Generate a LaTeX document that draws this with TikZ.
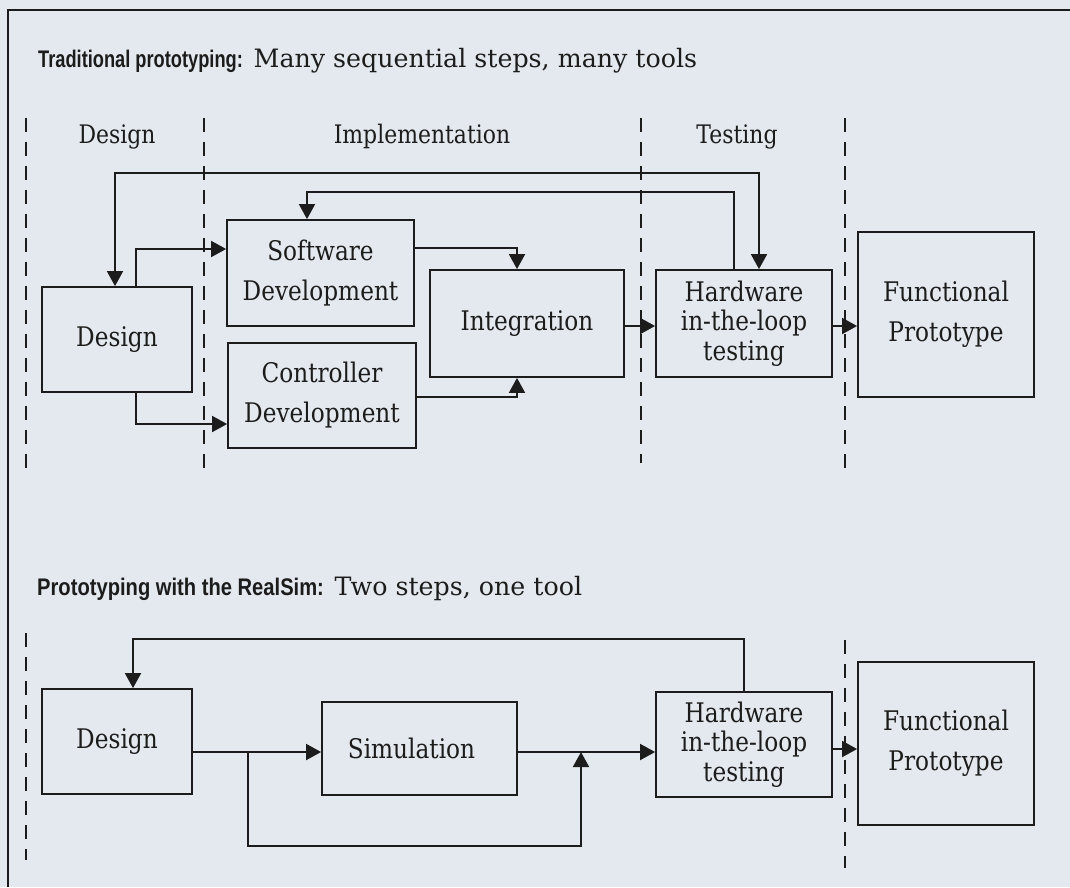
\documentclass[tikz,border=0pt]{standalone}
\usepackage{fontspec}
\setmainfont{DejaVu Serif}
\newfontfamily\serifC[FakeStretch=0.86]{DejaVu Serif}
\newfontfamily\condfont[FakeStretch=0.76]{Liberation Sans}
\newfontfamily\condfontB[FakeStretch=0.84]{Liberation Sans}
\usetikzlibrary{arrows.meta}
\definecolor{bg}{RGB}{228,233,239}
\definecolor{ink}{RGB}{28,28,28}
\newcommand\bxfont{\serifC\fontsize{27}{40}\selectfont}
\newcommand\hilfont{\serifC\fontsize{27}{29.5}\selectfont}
\begin{document}
\begin{tikzpicture}[x=1pt,y=-1pt,
  box/.style={draw=ink, line width=1.8pt, align=center, inner sep=0pt, font=\bxfont, text=ink},
  hdr/.style={anchor=base, font=\serifC\fontsize{25.5}{28}\selectfont, text=ink, inner sep=0pt},
  ttl/.style={anchor=base west, font=\fontsize{25.3}{30}\selectfont, text=ink, inner sep=0pt},
  tip/.tip={Triangle[length=15pt,width=16pt]},
  arr/.style={draw=ink, line width=1.8pt, -tip},
  dbl/.style={draw=ink, line width=1.8pt, tip-tip},
  phase/.style={draw=ink, line width=1.5pt, dash pattern=on 14pt off 10pt}]
\useasboundingbox (0,0) rectangle (1070,887);
\fill[bg] (0,0) rectangle (1070,887);
% frame
\draw[ink, line width=1.5pt] (1070,10) -- (8,10) -- (8,887);

% titles
\node[ttl] (t1) at (38,67) {{\condfont\fontsize{24}{26}\selectfont\bfseries Traditional prototyping:} Many sequential steps, many tools};
\node[ttl] (t2) at (37,595) {{\condfontB\fontsize{24}{26}\selectfont\bfseries Prototyping with the RealSim:} Two steps, one tool};

% phase headers
\node[hdr] (hd) at (117,143) {Design};
\node[hdr] (hi) at (422,143) {Implementation};
\node[hdr] (ht) at (737,143) {Testing};

% phase separators
\draw[phase] (26,118) -- (26,473);
\draw[phase] (204,118) -- (204,473);
\draw[phase] (641,118) -- (641,463);
\draw[phase] (845,118) -- (845,473);
\draw[phase] (26,633) -- (26,860);
\draw[phase] (845,640) -- (845,868);

% top boxes
\node[box, minimum width=150pt, minimum height=105pt] (d1) at (117,339.5) {Design};
\node[box, minimum width=187pt, minimum height=106pt] (sd) at (320.5,273) {Software\\Development};
\node[box, minimum width=188pt, minimum height=105pt] (cd) at (322,395.5) {Controller\\Development};
\node[box, minimum width=194pt, minimum height=107pt] (int) at (527,323.5) {Integration};
\node[box, minimum width=176pt, minimum height=107pt, font=\hilfont] (hil1) at (744,323.5) {Hardware\\in-the-loop\\testing};
\node[box, minimum width=176pt, minimum height=165pt] (fp1) at (946,314.5) {Functional\\Prototype};

% bottom boxes
\node[box, minimum width=150pt, minimum height=105pt] (d2) at (117,741.5) {Design};
\node[box, minimum width=195pt, minimum height=93pt] (sim) at (419.5,748.5) {Simulation\hspace*{16pt}};
\node[box, minimum width=176pt, minimum height=105pt, font=\hilfont] (hil2) at (744,744.5) {Hardware\\in-the-loop\\testing};
\node[box, minimum width=176pt, minimum height=163pt] (fp2) at (946,743.5) {Functional\\Prototype};

% top connectors
\coordinate (lt) at (115,173);
\coordinate (rt) at (759,173);
\draw[dbl] (d1.north -| lt) -- (lt) -- (rt) -- (hil1.north -| rt);
\coordinate (ia) at (734,192);
\coordinate (ib) at (307,192);
\draw[arr] (hil1.north -| ia) -- (ia) -- (ib) -- (sd.north -| ib);
\coordinate (c1) at (136,249);
\draw[arr] (d1.north -| c1) |- (sd.west |- c1);
\coordinate (c2) at (136,424);
\draw[arr] (d1.south -| c2) |- (cd.west |- c2);
\coordinate (c3) at (517,248);
\draw[arr] (sd.east |- c3) -| (int.north -| c3);
\coordinate (c4) at (517,397);
\draw[arr] (cd.east |- c4) -| (int.south -| c4);
\coordinate (c5) at (0,326);
\draw[arr] (int.east |- c5) -- (hil1.west |- c5);
\draw[arr] (hil1.east |- c5) -- (fp1.west |- c5);

% bottom connectors
\coordinate (c6) at (744,639);
\coordinate (c7) at (133,639);
\draw[arr] (hil2.north -| c6) -- (c6) -- (c7) -- (d2.north -| c7);
\coordinate (c8) at (0,752);
\draw[arr] (d2.east |- c8) -- (sim.west |- c8);
\coordinate (c9) at (248,752);
\coordinate (c10) at (581,846);
\coordinate (c11) at (581,752);
\draw[arr] (c9) |- (c10) -- (c11);
\draw[arr] (sim.east |- c8) -- (hil2.west |- c8);
\coordinate (c12) at (0,749);
\draw[arr] (hil2.east |- c12) -- (fp2.west |- c12);
\end{tikzpicture}
\end{document}
